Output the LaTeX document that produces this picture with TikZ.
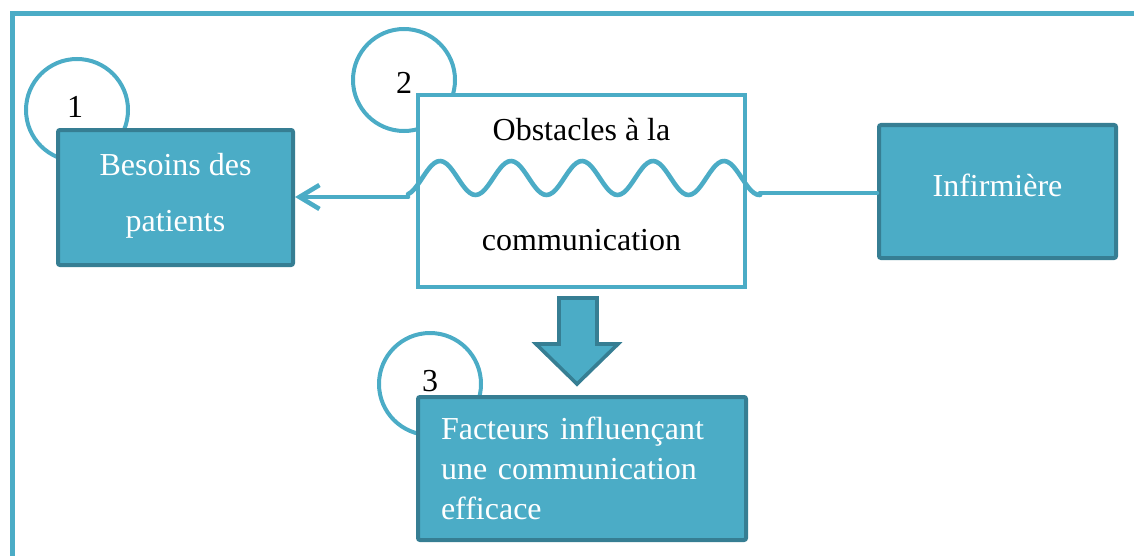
\documentclass[tikz,border=0pt]{standalone}
\usepackage{fontspec}
\setmainfont{Liberation Serif}
\usetikzlibrary{arrows.meta}
\definecolor{teal}{HTML}{4BACC6}
\definecolor{darkteal}{HTML}{367E93}
\tikzset{
  bluebox/.style={draw=darkteal, fill=teal, line width=2pt, rounded corners=1pt, text=white, font=\fontsize{16}{20}\selectfont, inner sep=0pt},
  numcircle/.style={circle, draw=teal, line width=2pt, minimum size=51pt, inner sep=0pt},
  numlabel/.style={font=\fontsize{16}{20}\selectfont},
  conn/.style={draw=teal, line width=2.3pt, line cap=round, line join=round},
}
\begin{document}
\begin{tikzpicture}[x=0.5pt,y=-0.5pt]
\useasboundingbox (0,0) rectangle (1134,556);
\begin{scope}
\clip (0,0) rectangle (1134,556);
\draw[teal, line width=2.5pt] (12,570) -- (12,14) -- (1150,14);
\end{scope}
% circles
\node[numcircle] (c1) at (77,110) {};
\node[numcircle] (c2) at (404,80) {};
\node[numcircle] (c3) at (430,384) {};
\node[numlabel] at (75,107) {1};
\node[numlabel] at (404,83) {2};
\node[numlabel] at (430,381) {3};
% boxes
\node[bluebox, minimum width=117.5pt, minimum height=67.5pt, align=center, text depth=5pt] (b1) at (175.5,197.5) {Besoins des\\[8pt]patients};
\node[draw=teal, fill=white, line width=2pt, minimum width=163.5pt, minimum height=96pt, align=center, font=\fontsize{16}{20}\selectfont, inner sep=0pt, text depth=7pt] (b2) at (581.5,191) {Obstacles à la\\[35pt]communication};
\node[bluebox, minimum width=118.5pt, minimum height=66.5pt, text depth=6pt] (b4) at (997.5,191.5) {Infirmière};
\node[bluebox, minimum width=164pt, minimum height=71.5pt, text width=141pt, align=left, inner xsep=11.5pt, font=\fontsize{16}{20}\selectfont] (b3) at (582,468.5) {Facteurs influençant\\une communication\\efficace};
% wave
\coordinate (ws) at (408,197);
\coordinate (we) at (760,193);
\draw[conn] plot[domain=408:760, samples=120, smooth] (\x, {178-17*cos(5.0704*(\x-440))});
\draw[conn, -{Straight Barb[length=10pt,width=12pt,line width=2.3pt]}] (ws) -- (b1.east |- ws);
\draw[conn] (we) -- (b4.west |- we);
% block arrow
\draw[draw=darkteal, fill=teal, line width=1.8pt, line join=miter] (559,298) -- (597,298) -- (597,344) -- (618,344) -- (577,384) -- (536,344) -- (559,344) -- cycle;
\end{tikzpicture}
\end{document}
